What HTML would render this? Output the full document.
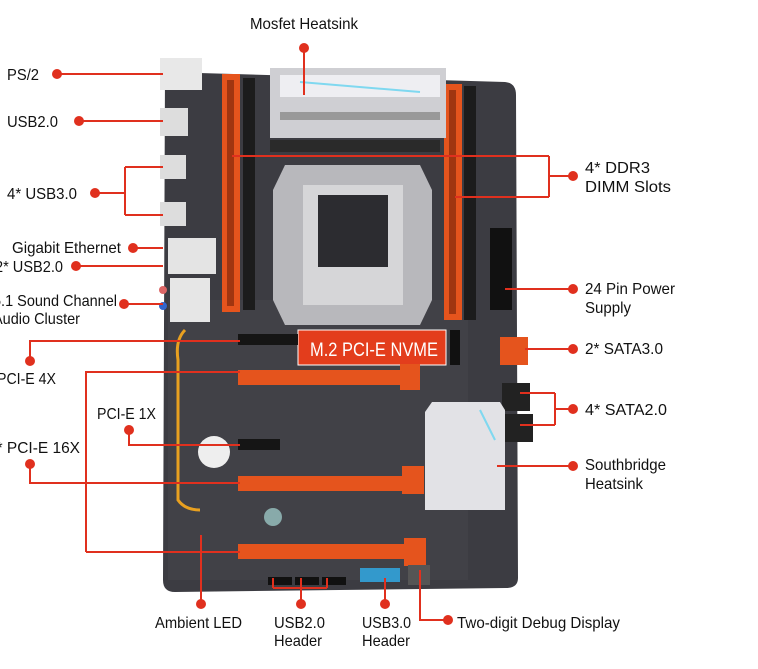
<!DOCTYPE html>
<html><head><meta charset="utf-8"><style>
html,body{margin:0;padding:0;background:#fff;}
svg{display:block}
text{font-family:"Liberation Sans",sans-serif;font-size:16px;fill:#111;}
</style></head><body>
<svg width="758" height="669" viewBox="0 0 758 669" xmlns="http://www.w3.org/2000/svg">
<rect width="758" height="669" fill="#fff"/>
<path d="M165 72 L505 82 Q516 83 516 95 L518 578 Q518 588 506 588 L175 592 Q163 592 163 580 Z" fill="#3c3c42"/>
<rect x="168" y="300" width="300" height="280" fill="#45454c" opacity="0.5"/>
<rect x="160" y="58" width="42" height="32" fill="#e8e8e8"/>
<rect x="160" y="108" width="28" height="28" fill="#ddd"/>
<rect x="160" y="155" width="26" height="24" fill="#ddd"/>
<rect x="160" y="202" width="26" height="24" fill="#ddd"/>
<rect x="168" y="238" width="48" height="36" fill="#e4e4e4"/>
<rect x="170" y="278" width="40" height="44" fill="#e6e6e6"/>
<circle cx="163" cy="290" r="4" fill="#d66"/><circle cx="163" cy="306" r="4" fill="#36c"/>
<rect x="222" y="74" width="18" height="238" fill="#e5541d"/>
<rect x="227" y="80" width="7" height="226" fill="#a03510"/>
<rect x="243" y="78" width="12" height="232" fill="#1c1c1c"/>
<rect x="444" y="84" width="18" height="236" fill="#e5541d"/>
<rect x="449" y="90" width="7" height="224" fill="#a03510"/>
<rect x="464" y="86" width="12" height="234" fill="#1c1c1c"/>
<rect x="270" y="68" width="176" height="70" fill="#cfcfd3"/>
<rect x="280" y="75" width="160" height="22" fill="#eeeef2"/>
<path d="M300 82 L420 92" stroke="#7fd8f0" stroke-width="2"/>
<rect x="280" y="112" width="160" height="8" fill="#999"/>
<rect x="270" y="140" width="170" height="12" fill="#2a2a2a"/>
<path d="M285 165 L420 165 L432 190 L432 300 L420 325 L285 325 L273 300 L273 190 Z" fill="#b8b8bc"/>
<rect x="303" y="185" width="100" height="120" fill="#d6d6d8"/>
<rect x="318" y="195" width="70" height="72" fill="#2c2c30"/>
<rect x="490" y="228" width="22" height="82" fill="#111"/>
<rect x="298" y="330" width="148" height="35" fill="#e33d1c" stroke="#fff" stroke-width="1"/>
<text x="310" y="356" textLength="128" lengthAdjust="spacingAndGlyphs" style="font-size:19px;fill:#fff">M.2 PCI-E NVME</text>
<rect x="450" y="330" width="10" height="35" fill="#111"/>
<rect x="238" y="334" width="60" height="11" fill="#151515"/>
<rect x="238" y="370" width="180" height="15" fill="#e5541d"/><rect x="400" y="364" width="20" height="26" fill="#e5541d"/>
<rect x="238" y="439" width="42" height="11" fill="#151515"/>
<rect x="238" y="476" width="180" height="15" fill="#e5541d"/><rect x="402" y="466" width="22" height="28" fill="#e5541d"/>
<rect x="238" y="544" width="180" height="15" fill="#e5541d"/><rect x="404" y="538" width="22" height="28" fill="#e5541d"/>
<circle cx="214" cy="452" r="16" fill="#eee"/>
<circle cx="273" cy="517" r="9" fill="#8aa"/>
<rect x="500" y="337" width="28" height="28" fill="#e5541d"/>
<rect x="502" y="383" width="28" height="28" fill="#222"/>
<rect x="505" y="414" width="28" height="28" fill="#222"/>
<path d="M432 402 L500 402 L505 410 L505 510 L425 510 L425 412 Z" fill="#e2e2e6"/>
<path d="M480 410 L495 440" stroke="#7fd8f0" stroke-width="2"/>
<rect x="268" y="577" width="24" height="8" fill="#111"/><rect x="295" y="577" width="24" height="8" fill="#111"/><rect x="322" y="577" width="24" height="8" fill="#111"/>
<rect x="360" y="568" width="40" height="14" fill="#3399cc"/>
<rect x="408" y="565" width="22" height="20" fill="#555"/>
<path d="M185 330 Q175 340 178 360 L178 500 Q185 510 200 510" stroke="#e8a020" stroke-width="3" fill="none"/>
<g stroke="#e0301e" stroke-width="2" fill="none">
<path d="M304 48 V95"/>
<path d="M57 74 H163"/>
<path d="M79 121 H163"/>
<path d="M95 193 H125 M125 167 V215 M125 167 H163 M125 215 H163"/>
<path d="M133 248 H163"/>
<path d="M76 266 H163"/>
<path d="M124 304 H163"/>
<path d="M30 361 V341 H240"/>
<path d="M86 552 V372 H240 M86 552 H240"/>
<path d="M129 430 V445 H240"/>
<path d="M30 464 V483 H240"/>
<path d="M573 176 H549 M549 156 V197 M549 156 H232 M549 197 H455"/>
<path d="M573 289 H505"/>
<path d="M573 349 H525"/>
<path d="M573 409 H555 M555 393 V425 M555 393 H520 M555 425 H520"/>
<path d="M573 466 H497"/>
<path d="M201 604 V535"/>
<path d="M301 604 V588 M273 588 H327 M273 588 V578 M301 588 V578 M327 588 V578"/>
<path d="M385 604 V578"/>
<path d="M448 620 H420 V570"/>
</g>
<g fill="#e0301e">
<circle cx="304" cy="48" r="5"/>
<circle cx="57" cy="74" r="5"/><circle cx="79" cy="121" r="5"/><circle cx="95" cy="193" r="5"/>
<circle cx="133" cy="248" r="5"/><circle cx="76" cy="266" r="5"/><circle cx="124" cy="304" r="5"/>
<circle cx="30" cy="361" r="5"/><circle cx="129" cy="430" r="5"/><circle cx="30" cy="464" r="5"/>
<circle cx="573" cy="176" r="5"/><circle cx="573" cy="289" r="5"/><circle cx="573" cy="349" r="5"/>
<circle cx="573" cy="409" r="5"/><circle cx="573" cy="466" r="5"/>
<circle cx="201" cy="604" r="5"/><circle cx="301" cy="604" r="5"/><circle cx="385" cy="604" r="5"/><circle cx="448" cy="620" r="5"/>
</g>
<g style="" >
<text x="250" y="29" textLength="108" lengthAdjust="spacingAndGlyphs">Mosfet Heatsink</text>
<text x="7" y="80" textLength="32" lengthAdjust="spacingAndGlyphs">PS/2</text>
<text x="7" y="127" textLength="51" lengthAdjust="spacingAndGlyphs">USB2.0</text>
<text x="7" y="199" textLength="70" lengthAdjust="spacingAndGlyphs">4* USB3.0</text>
<text x="12" y="253" textLength="109" lengthAdjust="spacingAndGlyphs">Gigabit Ethernet</text>
<text x="-5" y="272" textLength="68" lengthAdjust="spacingAndGlyphs">2* USB2.0</text>
<text x="-7" y="306" textLength="124" lengthAdjust="spacingAndGlyphs">5.1 Sound Channel</text>
<text x="-7" y="324" textLength="87" lengthAdjust="spacingAndGlyphs">Audio Cluster</text>
<text x="-3" y="384" textLength="59" lengthAdjust="spacingAndGlyphs">PCI-E 4X</text>
<text x="97" y="419" textLength="59" lengthAdjust="spacingAndGlyphs">PCI-E 1X</text>
<text x="-12" y="453" textLength="92" lengthAdjust="spacingAndGlyphs">2* PCI-E 16X</text>
<text x="585" y="173" textLength="65" lengthAdjust="spacingAndGlyphs">4* DDR3</text>
<text x="585" y="192" textLength="86" lengthAdjust="spacingAndGlyphs">DIMM Slots</text>
<text x="585" y="294" textLength="90" lengthAdjust="spacingAndGlyphs">24 Pin Power</text>
<text x="585" y="313" textLength="46" lengthAdjust="spacingAndGlyphs">Supply</text>
<text x="585" y="354" textLength="78" lengthAdjust="spacingAndGlyphs">2* SATA3.0</text>
<text x="585" y="415" textLength="82" lengthAdjust="spacingAndGlyphs">4* SATA2.0</text>
<text x="585" y="470" textLength="81" lengthAdjust="spacingAndGlyphs">Southbridge</text>
<text x="585" y="489" textLength="58" lengthAdjust="spacingAndGlyphs">Heatsink</text>
<text x="155" y="628" textLength="87" lengthAdjust="spacingAndGlyphs">Ambient LED</text>
<text x="274" y="628" textLength="51" lengthAdjust="spacingAndGlyphs">USB2.0</text>
<text x="274" y="646" textLength="48" lengthAdjust="spacingAndGlyphs">Header</text>
<text x="362" y="628" textLength="49" lengthAdjust="spacingAndGlyphs">USB3.0</text>
<text x="362" y="646" textLength="48" lengthAdjust="spacingAndGlyphs">Header</text>
<text x="457" y="628" textLength="163" lengthAdjust="spacingAndGlyphs">Two-digit Debug Display</text>
</g>
</svg>
</body></html>
